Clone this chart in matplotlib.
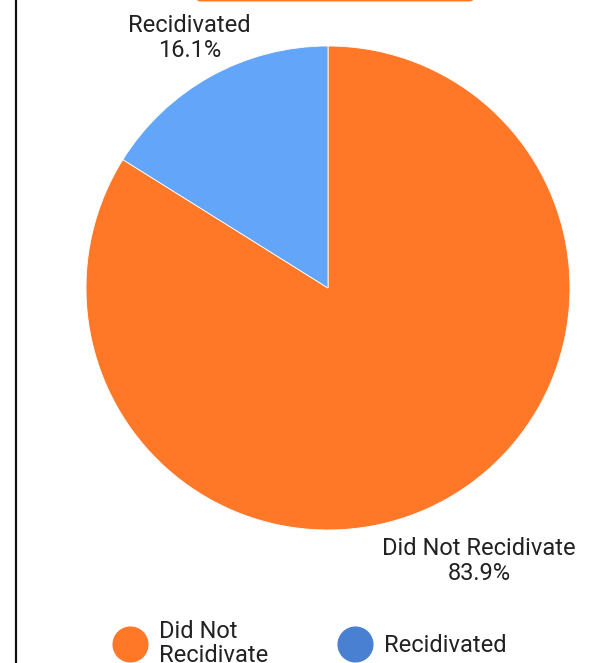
import numpy as np
import matplotlib
matplotlib.use("Agg")
import matplotlib.pyplot as plt
from matplotlib.lines import Line2D
from matplotlib.patches import FancyBboxPatch

plt.rcParams["font.family"] = ["Roboto", "DejaVu Sans"]

categories = ["Did Not Recidivate", "Recidivated"]
shares = [83.9, 16.1]
legend_labels = ["Did Not\nRecidivate", "Recidivated"]

pie_colors = ["#FF7828", "#62A5F9"]
legend_colors = ["#FF7828", "#4A80D2"]

W, H, dpi = 598, 663, 100
fig = plt.figure(figsize=(W / dpi, H / dpi), dpi=dpi)
ax = fig.add_axes([0, 0, 1, 1])

wedges, texts = ax.pie(
    shares, colors=pie_colors, startangle=90, counterclock=False,
    radius=1, labels=[f"{c}\n{s}%" for c, s in zip(categories, shares)],
    wedgeprops=dict(linewidth=0.6, edgecolor="white"),
    textprops=dict(fontsize=17, color="#222222", linespacing=1.1),
)

# pie geometry in pixels (limits set after pie, which resets them)
cx, cy, r = 328, 288, 242
ax.set_xlim((0 - cx) / r, (W - cx) / r)
ax.set_ylim((cy - H) / r, cy / r)
ax.axis("off")

# push labels out along each wedge's mid angle
label_dist = [1.29, 1.18]
for w, t, d in zip(wedges, texts, label_dist):
    ang = np.deg2rad((w.theta1 + w.theta2) / 2)
    t.set_position((d * np.cos(ang), d * np.sin(ang)))
    t.set_ha("center")
    t.set_va("center")

# legend with circular markers
handles = [Line2D([], [], marker="o", linestyle="", markersize=25,
                  markerfacecolor=c, markeredgecolor=c) for c in legend_colors]
leg = fig.legend(handles, legend_labels, loc="center left",
                 bbox_to_anchor=(0.142, 0.03), ncol=2, frameon=False,
                 fontsize=17, handletextpad=0.25, columnspacing=2.65,
                 labelspacing=0.0)
for t in leg.get_texts():
    t.set_linespacing(1.05)
    t.set_color("#222222")

# left border line
fig.add_artist(Line2D([16 / W, 16 / W], [0, 1], color="#111111", linewidth=1.6,
                      transform=fig.transFigure))

# header box peeking in at the top
fig.add_artist(FancyBboxPatch((195 / W, 1 - 1.5 / H), 280 / W, 40 / H,
                              boxstyle="round,pad=0,rounding_size=0.01",
                              facecolor="#FF7828", edgecolor="none",
                              transform=fig.transFigure))

fig.savefig("out.png", dpi=dpi)
